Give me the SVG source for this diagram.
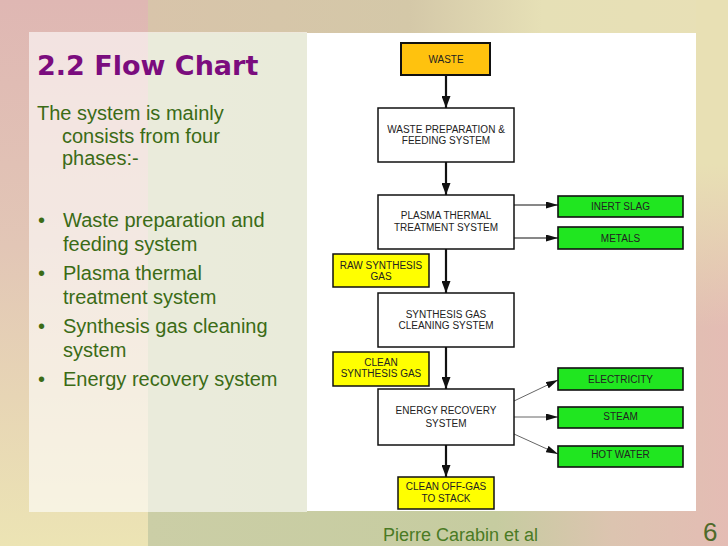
<svg xmlns="http://www.w3.org/2000/svg" width="728" height="546" viewBox="0 0 728 546">
<style>
.box{fill:#ffffff;stroke:#111;stroke-width:1.5}
.yel{fill:#ffff00;stroke:#111;stroke-width:1.5}
.grn{fill:#20e620;stroke:#111;stroke-width:1.6}
.bt{font-family:"Liberation Sans",Arial,sans-serif;font-size:10px;fill:#222;text-anchor:middle}
.body{font-family:"Liberation Sans",Arial,sans-serif;font-size:20px;fill:#3b6b16}
.main{stroke:#111;stroke-width:2.2;fill:none}
.thin{stroke:#111;stroke-width:1;fill:none}
.gray{stroke:#666;stroke-width:1;fill:none}
</style>
<defs>
<linearGradient id="gLeft" x1="0" y1="0" x2="0" y2="1">
<stop offset="0" stop-color="#dfb7b3"/>
<stop offset="0.45" stop-color="#e2c6b6"/>
<stop offset="1" stop-color="#ece4b4"/>
</linearGradient>
<linearGradient id="gMain" x1="0" y1="0" x2="1" y2="0">
<stop offset="0" stop-color="#cbcea6"/>
<stop offset="0.6" stop-color="#c6cca0"/>
<stop offset="0.8" stop-color="#dcc4b0"/>
<stop offset="1" stop-color="#e4bcb4"/>
</linearGradient>
<linearGradient id="gTop" x1="0" y1="0" x2="1" y2="0">
<stop offset="0" stop-color="#d8c4aa"/>
<stop offset="0.45" stop-color="#d4c8a8"/>
<stop offset="0.68" stop-color="#e6e0b6"/>
<stop offset="1" stop-color="#e8e0b6"/>
</linearGradient>
<linearGradient id="gRight" x1="0" y1="0" x2="0" y2="1">
<stop offset="0" stop-color="#e8e0b4" stop-opacity="1"/>
<stop offset="0.3" stop-color="#e8e0b4" stop-opacity="1"/>
<stop offset="0.6" stop-color="#e8e0b4" stop-opacity="0"/>
</linearGradient>
<marker id="ahBig" markerUnits="userSpaceOnUse" markerWidth="12" markerHeight="9" refX="12" refY="4.5" orient="auto">
<path d="M0,0 L12,4.5 L0,9 z" fill="#111"/>
</marker>
<marker id="ahSmall" markerUnits="userSpaceOnUse" markerWidth="12" markerHeight="7" refX="12" refY="3.5" orient="auto">
<path d="M0,0 L12,3.5 L0,7 z" fill="#111"/>
</marker>
</defs>

<!-- background -->
<rect x="0" y="0" width="148" height="546" fill="url(#gLeft)"/>
<rect x="148" y="0" width="580" height="546" fill="url(#gMain)"/>
<rect x="148" y="0" width="580" height="33" fill="url(#gTop)"/>
<rect x="696" y="0" width="32" height="546" fill="url(#gRight)"/>
<rect x="29" y="32" width="278" height="480" fill="#ffffff" fill-opacity="0.6"/>
<rect x="307" y="33" width="389" height="478" fill="#ffffff"/>

<!-- left text -->
<g id="title">
<text x="37" y="75" font-family="'DejaVu Sans',sans-serif" font-weight="bold" font-size="27" fill="#7b0c7e">2.2 Flow Chart</text>
</g>
<g id="bodytext" class="body">
<text x="37" y="120">The system is mainly</text>
<text x="62" y="143">consists from four</text>
<text x="62" y="165">phases:-</text>
<text x="38" y="227">•</text><text x="63" y="227">Waste preparation and</text>
<text x="63" y="251">feeding system</text>
<text x="38" y="280">•</text><text x="63" y="280">Plasma thermal</text>
<text x="63" y="304">treatment system</text>
<text x="38" y="333">•</text><text x="63" y="333">Synthesis gas cleaning</text>
<text x="63" y="357">system</text>
<text x="38" y="386">•</text><text x="63" y="386">Energy recovery system</text>
</g>

<!-- connectors -->
<g id="connectors">
<line class="main" x1="446" y1="75" x2="446" y2="108" marker-end="url(#ahBig)"/>
<line class="main" x1="446" y1="162" x2="446" y2="195" marker-end="url(#ahBig)"/>
<line class="main" x1="446" y1="249" x2="446" y2="293" marker-end="url(#ahBig)"/>
<line class="main" x1="446" y1="347" x2="446" y2="389" marker-end="url(#ahBig)"/>
<line class="main" x1="446" y1="445" x2="446" y2="477" marker-end="url(#ahBig)"/>
<line class="thin" x1="514" y1="205" x2="558" y2="205" marker-end="url(#ahSmall)"/>
<line class="thin" x1="514" y1="238" x2="558" y2="238" marker-end="url(#ahSmall)"/>
<line class="gray" x1="514" y1="401" x2="558" y2="380" marker-end="url(#ahSmall)"/>
<line class="gray" x1="514" y1="417" x2="558" y2="417" marker-end="url(#ahSmall)"/>
<line class="gray" x1="514" y1="434" x2="558" y2="454" marker-end="url(#ahSmall)"/>
</g>

<!-- nodes -->
<g id="waste">
<rect x="401" y="43" width="89" height="32" fill="#ffc20e" stroke="#111" stroke-width="2"/>
<text class="bt" x="446" y="63">WASTE</text>
</g>
<g id="prep">
<rect class="box" x="378" y="108" width="136" height="54"/>
<text class="bt" x="446" y="133">WASTE PREPARATION &amp;</text>
<text class="bt" x="446" y="143.5">FEEDING SYSTEM</text>
</g>
<g id="plasma">
<rect class="box" x="378" y="195" width="136" height="54"/>
<text class="bt" x="446" y="218.5">PLASMA THERMAL</text>
<text class="bt" x="446" y="231">TREATMENT SYSTEM</text>
</g>
<g id="cleaning">
<rect class="box" x="378" y="293" width="136" height="54"/>
<text class="bt" x="446" y="318">SYNTHESIS GAS</text>
<text class="bt" x="446" y="329">CLEANING SYSTEM</text>
</g>
<g id="energy">
<rect class="box" x="378" y="389" width="136" height="56"/>
<text class="bt" x="446" y="414">ENERGY RECOVERY</text>
<text class="bt" x="446" y="427">SYSTEM</text>
</g>
<g id="offgas">
<rect class="yel" x="398" y="477" width="96" height="32"/>
<text class="bt" x="446" y="490">CLEAN OFF-GAS</text>
<text class="bt" x="446" y="502">TO STACK</text>
</g>
<g id="rawgas">
<rect class="yel" x="333" y="254" width="96" height="33"/>
<text class="bt" x="381" y="269">RAW SYNTHESIS</text>
<text class="bt" x="381" y="280">GAS</text>
</g>
<g id="cleangas">
<rect class="yel" x="333" y="352" width="96" height="34"/>
<text class="bt" x="381" y="366">CLEAN</text>
<text class="bt" x="381" y="377">SYNTHESIS GAS</text>
</g>
<g id="slag">
<rect class="grn" x="558" y="196" width="125" height="21"/>
<text class="bt" x="620.5" y="210">INERT SLAG</text>
</g>
<g id="metals">
<rect class="grn" x="558" y="227" width="125" height="22"/>
<text class="bt" x="620.5" y="241.5">METALS</text>
</g>
<g id="electricity">
<rect class="grn" x="558" y="368" width="125" height="22"/>
<text class="bt" x="620.5" y="382.5">ELECTRICITY</text>
</g>
<g id="steam">
<rect class="grn" x="558" y="407" width="125" height="21"/>
<text class="bt" x="620.5" y="419.5">STEAM</text>
</g>
<g id="hotwater">
<rect class="grn" x="558" y="446" width="125" height="21"/>
<text class="bt" x="620.5" y="457.5">HOT WATER</text>
</g>

<!-- footer -->
<g id="footer">
<text x="383" y="541" font-family="'Liberation Sans',Arial,sans-serif" font-size="18" fill="#4a7a24">Pierre Carabin et al</text>
<text x="703" y="541" font-family="'Liberation Sans',Arial,sans-serif" font-size="26" fill="#4f6a2a">6</text>
</g>
</svg>
